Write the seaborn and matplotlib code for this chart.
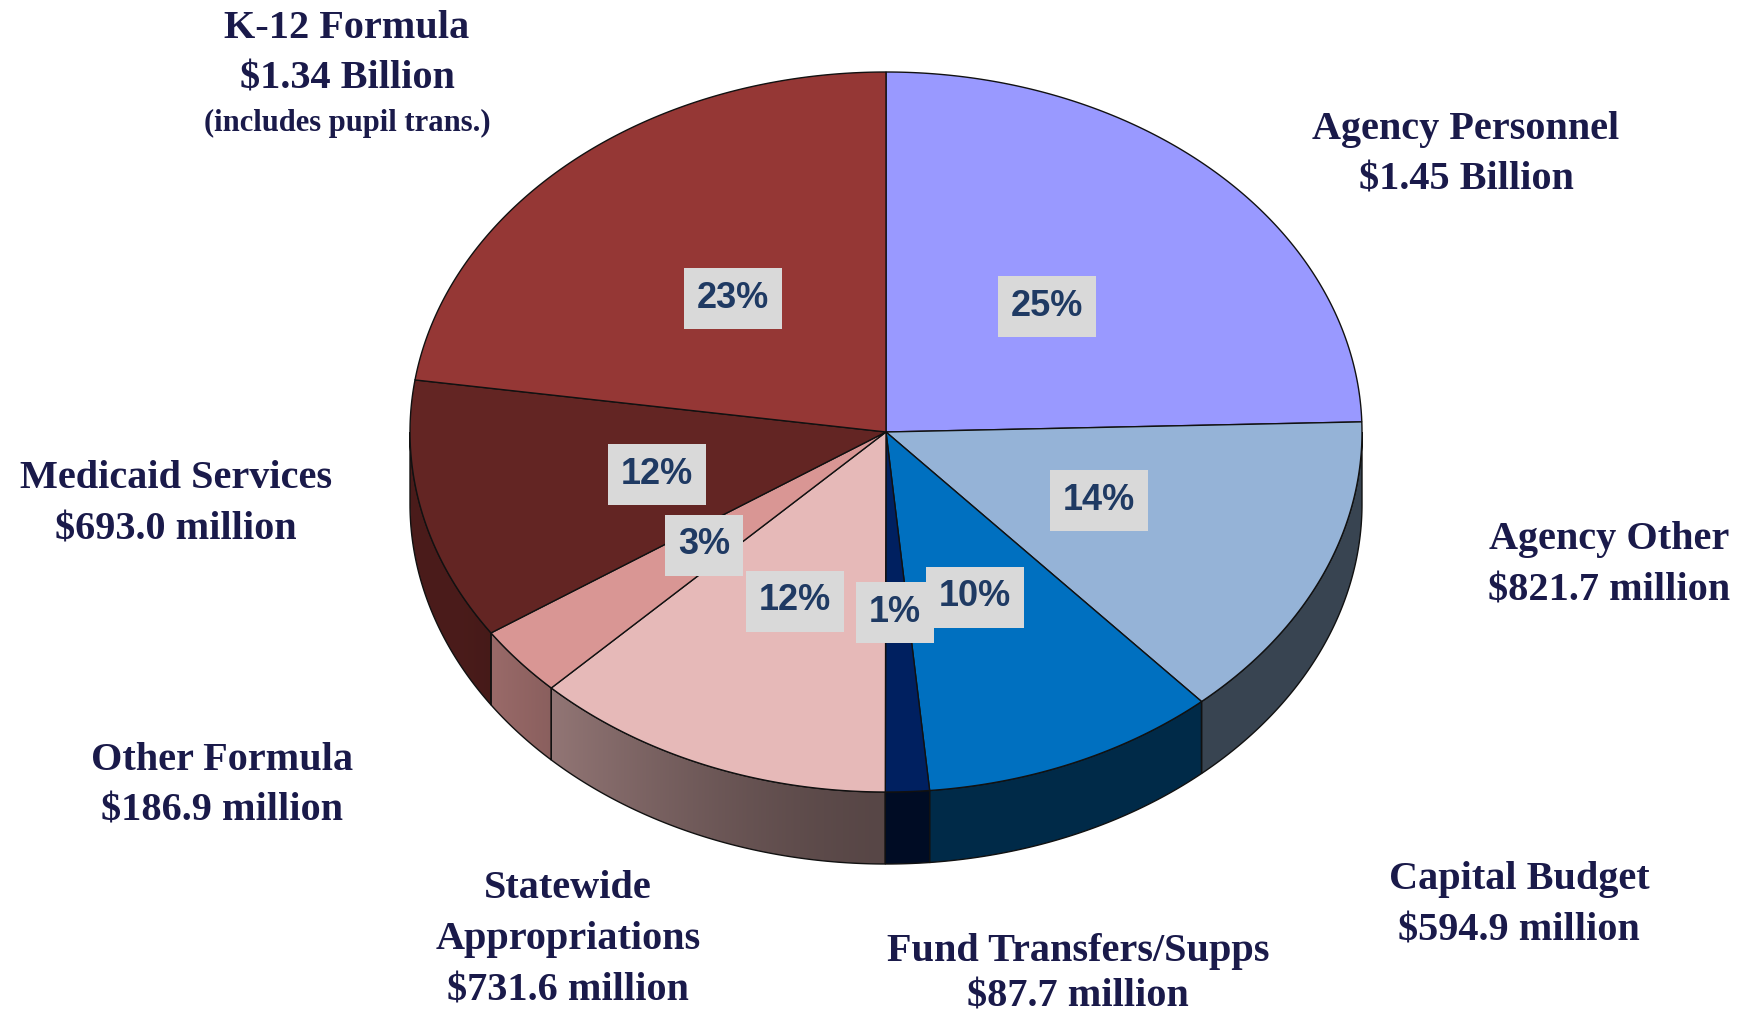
import numpy as np
import matplotlib
matplotlib.use("Agg")
import matplotlib.pyplot as plt
from matplotlib.patches import Polygon
import seaborn as sns

# budget categories, clockwise from 12 o'clock
categories = ["Agency Personnel", "Agency Other", "Capital Budget", "Fund Transfers/Supps",
              "Statewide\nAppropriations", "Other Formula", "Medicaid Services", "K-12 Formula"]
amounts = [1450.0, 821.7, 594.9, 87.7, 731.6, 186.9, 693.0, 1340.0]  # $ million
amount_text = ["$1.45 Billion", "$821.7 million", "$594.9 million", "$87.7 million",
               "$731.6 million", "$186.9 million", "$693.0 million", "$1.34 Billion"]
top_colors = ["#9999FF", "#95B3D7", "#0070C0", "#002060",
              "#E6B9B8", "#D99694", "#632523", "#953735"]

# layout (pixel coords of the 1744x1019 canvas)
cx, cy, rx, ry, depth = 886, 432, 476, 360, 72
name_pos = [(1466, 129), (1609, 540), (1519, 880), (1078, 951),
            (568, 889), (222, 760), (176, 479), (347, 28)]
line_gap = [51, 51, 51, 46, 51, 51, 51, 51]
pct_pos = [(1047, 306), (1099, 500), (975, 597), (895, 612),
           (795, 601), (704, 545), (657, 474), (733, 298)]

sns.set_theme(style="white")
plt.rcParams['font.family'] = ['Liberation Serif', 'DejaVu Serif']

fig = plt.figure(figsize=(17.44, 10.19), dpi=100)
ax = fig.add_axes([0, 0, 1, 1])
ax.set_xlim(0, 1744)
ax.set_ylim(1019, 0)
ax.axis("off")

total = sum(amounts)
shares = np.array(amounts) / total
bounds = np.concatenate([[0], np.cumsum(shares) * 360])


def pt(theta, dy=0.0):
    t = np.radians(theta)
    return cx + rx * np.sin(t), cy - ry * np.cos(t) + dy


def shade(x):
    u = (x - cx) / rx
    t = np.clip(-u / 0.9, 0, 1)
    return 0.38 + 0.37 * t ** 1.5


# side walls (front half only), gradient image clipped to each wall
for i, col in enumerate(top_colors):
    a0, a1 = max(bounds[i], 90), min(bounds[i + 1], 270)
    if a1 <= a0:
        continue
    base = np.array(matplotlib.colors.to_rgb(col))
    th = np.linspace(a0, a1, 150)
    top = [pt(t) for t in th]
    bot = [pt(t, depth) for t in th[::-1]]
    verts = top + bot
    xs = [v[0] for v in verts]
    ys = [v[1] for v in verts]
    x_lo, x_hi = min(xs) - 2, max(xs) + 2
    y_lo, y_hi = min(ys) - 2, max(ys) + 2
    gx = np.linspace(x_lo, x_hi, 300)
    img = np.clip(base[None, None, :] * shade(gx)[None, :, None], 0, 1)
    img = np.repeat(img, 2, axis=0)
    wall = Polygon(verts, closed=True, facecolor="none", edgecolor="#111111", lw=1.0, zorder=2)
    ax.add_patch(wall)
    im = ax.imshow(img, extent=(x_lo, x_hi, y_hi, y_lo), aspect="auto",
                   interpolation="bilinear", zorder=1)
    im.set_clip_path(wall)

ax.set_xlim(0, 1744)
ax.set_ylim(1019, 0)

# top faces
for i, col in enumerate(top_colors):
    th = np.linspace(bounds[i], bounds[i + 1], 200)
    verts = [(cx, cy)] + [pt(t) for t in th]
    ax.add_patch(Polygon(verts, closed=True, facecolor=col,
                         edgecolor="#111111", lw=1.0, zorder=3))

# percentage boxes
for (px, py), s in zip(pct_pos, shares):
    ax.text(px, py, f"{round(s * 100)}%", ha="center", va="center", fontsize=26,
            fontweight="bold", family=["Liberation Sans", "DejaVu Sans"], color="#1F3A63",
            bbox=dict(boxstyle="square,pad=0.36", facecolor="#D9D9D9", edgecolor="none"),
            zorder=5)

# category labels
label_col = "#1A1A4A"
for (nx, ny), gap, name, amt in zip(name_pos, line_gap, categories, amount_text):
    lines = name.split("\n") + [amt]
    for k, line in enumerate(lines):
        ax.text(nx, ny + k * gap, line, ha="center", va="center", fontsize=29,
                fontweight="bold", color=label_col, zorder=6)
ax.text(name_pos[-1][0], name_pos[-1][1] + 2 * line_gap[-1] - 7, "(includes pupil trans.)",
        ha="center", va="center", fontsize=22, fontweight="bold", color=label_col, zorder=6)

fig.savefig("out.png", dpi=100, facecolor="white")
